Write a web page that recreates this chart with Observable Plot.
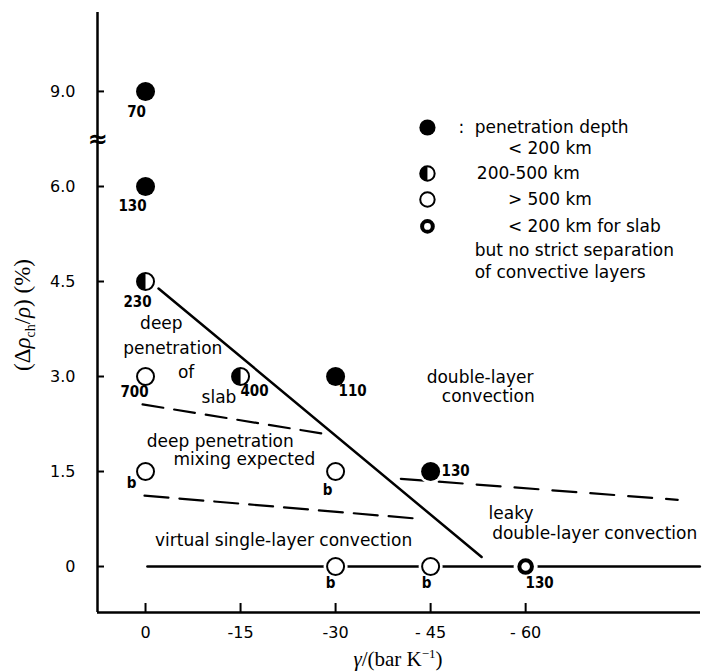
<!DOCTYPE html>
<html><head><meta charset="utf-8">
<script src="https://cdn.jsdelivr.net/npm/d3@7"></script>
<script src="https://cdn.jsdelivr.net/npm/@observablehq/plot@0.6"></script>
<style>
body{margin:0;background:#fff;}
#chart{width:702px;height:672px;}
</style></head><body><div id="chart"></div>
<script>
// ---- data ----
const gamma      = [0, 0, 0, 0, -15, -30, 0, -30, -45, -30, -45, -60];
const drho       = [9.0, 6.0, 4.5, 3.0, 3.0, 3.0, 1.5, 1.5, 1.5, 0, 0, 0];
const depthClass = ["shallow","shallow","mid","deep","mid","shallow","deep","deep","shallow","deep","deep","leaky"];
const pointLabels = ["70","130","230","700","400","110","b","b","130","b","b","130"];
const labelDx = [-9,-13,-8,-11,14,17,-14,-8,25,-5,-4,14];
const labelDy = [21,20,21,16,15,15,12,19,0,17,17,17];

const xTicks = [0, -15, -30, -45, -60];
const xTickLabels = ["0", "-15", "-30", "- 45", "- 60"];
const yTicks = [0, 1.5, 3, 4.5, 6, 9];
const yTickLabels = ["0", "1.5", "3.0", "4.5", "6.0", "9.0"];
const yBreak = 7.5;

// regime boundaries
const boundaryGamma  = [-2.05, -53.05]; const boundaryDrho  = [4.39, 0.15];
const dashUpperGamma = [0.47, -27.9];   const dashUpperDrho = [2.56, 2.10];
const dashLowerGamma = [0.16, -43.6];   const dashLowerDrho = [1.12, 0.75];
const dashRightGamma = [-40.3, -84.0];  const dashRightDrho = [1.385, 1.053];
const baseGamma      = [-0.3, -87.5];   const baseDrho      = [0, 0];

// regime annotations
const regionText  = ["deep","penetration","of","slab","double-layer","convection","deep penetration","mixing expected","virtual single-layer convection","leaky","double-layer convection"];
const regionGamma = [-2.5,-4.3,-6.4,-11.6,-52.8,-54.1,-11.8,-15.6,-21.8,-57.7,-70.9];
const regionDrho  = [3.84,3.44,3.06,2.67,2.98,2.69,1.97,1.69,0.41,0.84,0.52];

// legend
const legendClass = ["shallow","mid","deep","leaky"];
const legendSymGamma = -44.5;
const legendSymDrho = [7.86, 6.41, 5.795, 5.37];
const legendText  = [":", "penetration depth", "< 200 km", "200-500 km", "> 500 km", "< 200 km for slab", "but no strict separation", "of convective layers"];
const legendGamma = [-49.4, -51.95, -57.2, -52.3, -57.2, -57.2, -51.95, -51.95];
const legendDrho  = [7.86, 7.86, 7.2, 6.41, 5.795, 5.37, 4.99, 4.64];

// ---- tables ----
const pts = gamma.map((g, i) => ({g, d: drho[i], c: depthClass[i], lab: pointLabels[i], dx: labelDx[i], dy: labelDy[i]}));
const seg = (gs, ds) => gs.map((g, i) => ({g, d: ds[i]}));
const regions = regionText.map((t, i) => ({t, g: regionGamma[i], d: regionDrho[i]}));
const legSyms = legendClass.map((c, i) => ({c, g: legendSymGamma, d: legendSymDrho[i]}));
const legTexts = legendText.map((t, i) => ({t, g: legendGamma[i], d: legendDrho[i]}));
const xLab = new Map(xTicks.map((v, i) => [v, xTickLabels[i]]));
const yLab = new Map(yTicks.map((v, i) => [v, yTickLabels[i]]));

const xDomain = [7.58, -87.6];
const yDomain = [-0.726, 6, 11.49];

const halfLeft = {draw(ctx, size) {
  const r = Math.sqrt(size / Math.PI);
  ctx.moveTo(0, -r); ctx.arc(0, 0, r, -Math.PI / 2, Math.PI / 2, true); ctx.closePath();
}};

function symbolMarks(data, s) {
  const by = c => data.filter(p => p.c === c);
  return [
    Plot.dot(by("shallow"), {x: "g", y: "d", r: 9.5 * s, fill: "black"}),
    Plot.dot(by("mid"), {x: "g", y: "d", r: 8.5 * s, fill: "white", stroke: "black", strokeWidth: 2}),
    Plot.dot(by("mid"), {x: "g", y: "d", r: 8.5 * s, fill: "black", symbol: halfLeft}),
    Plot.dot(by("deep"), {x: "g", y: "d", r: 8.5 * s, fill: "white", stroke: "black", strokeWidth: 2}),
    Plot.dot(by("leaky"), {x: "g", y: "d", r: 6.3 * s, fill: "white", stroke: "black", strokeWidth: 4})
  ];
}

const font = "DejaVu Sans, sans-serif";
const numFont = "Liberation Sans Narrow, DejaVu Sans Condensed, sans-serif";

const plot = Plot.plot({
  width: 702, height: 672,
  marginLeft: 97, marginRight: 2, marginTop: 12, marginBottom: 60,
  style: {fontFamily: font, background: "white", color: "black"},
  x: {domain: xDomain, axis: null},
  y: {type: "linear", domain: yDomain, range: [612, 186, 12], axis: null},
  marks: [
    Plot.ruleY([yDomain[0]], {strokeWidth: 2.5}),
    Plot.ruleX([xDomain[0]], {strokeWidth: 2.5}),
    Plot.tickX(xTicks, {x: d => d, insetTop: 591, strokeWidth: 2}),
    Plot.tickY(yTicks, {y: d => d, insetRight: 596, strokeWidth: 2}),
    Plot.axisX(xTicks, {tickSize: 0, tickPadding: 14, tickFormat: d => xLab.get(d), fontSize: 16, label: null}),
    Plot.axisY(yTicks, {tickSize: 0, tickPadding: 22, tickFormat: d => yLab.get(d), fontSize: 16, label: null}),
    Plot.text([yBreak], {x: xDomain[0], y: d => d, text: () => "≈", fontSize: 24, fontWeight: "bold"}),
    // regime boundaries
    Plot.line(seg(baseGamma, baseDrho), {x: "g", y: "d", strokeWidth: 2.5}),
    Plot.line(seg(boundaryGamma, boundaryDrho), {x: "g", y: "d", strokeWidth: 2.5}),
    Plot.line(seg(dashUpperGamma, dashUpperDrho), {x: "g", y: "d", strokeWidth: 2.2, strokeDasharray: "21,11"}),
    Plot.line(seg(dashLowerGamma, dashLowerDrho), {x: "g", y: "d", strokeWidth: 2.2, strokeDasharray: "24,11"}),
    Plot.line(seg(dashRightGamma, dashRightDrho), {x: "g", y: "d", strokeWidth: 2.2, strokeDasharray: "24,14"}),
    // halos and points
    Plot.dot(pts, {x: "g", y: "d", r: 12, fill: "white"}),
    ...symbolMarks(pts, 1),
    ...pts.map(p => Plot.text([p], {x: "g", y: "d", text: "lab", dx: p.dx, dy: p.dy, fontSize: 15, fontWeight: "bold", fontFamily: numFont})),
    // annotations
    Plot.text(regions, {x: "g", y: "d", text: "t", fontSize: 17}),
    // legend
    ...symbolMarks(legSyms, 0.85),
    Plot.text(legTexts, {x: "g", y: "d", text: "t", textAnchor: "start", fontSize: 17})
  ]
});
document.getElementById("chart").appendChild(plot);

// axis titles with sub/superscripts
const svg = d3.select(plot);
const xt = svg.append("text").attr("x", 398).attr("y", 666).attr("text-anchor", "middle")
  .attr("font-family", "Liberation Serif, DejaVu Serif, serif").attr("font-size", 21);
xt.append("tspan").attr("font-style", "italic").text("γ");
xt.append("tspan").text("/(bar K");
xt.append("tspan").attr("font-size", 13).attr("dy", -8).text("−1");
xt.append("tspan").attr("dy", 8).text(")");

const yt = svg.append("text").attr("transform", "translate(30,315) rotate(-90)").attr("text-anchor", "middle")
  .attr("font-family", "Liberation Serif, DejaVu Serif, serif").attr("font-size", 23);
yt.append("tspan").text("(Δ");
yt.append("tspan").attr("font-style", "italic").text("ρ");
yt.append("tspan").attr("font-size", 14).attr("dy", 5).text("ch");
yt.append("tspan").attr("dy", -5).text("/");
yt.append("tspan").attr("font-style", "italic").text("ρ");
yt.append("tspan").text(") (%)");
</script>
</body></html>
